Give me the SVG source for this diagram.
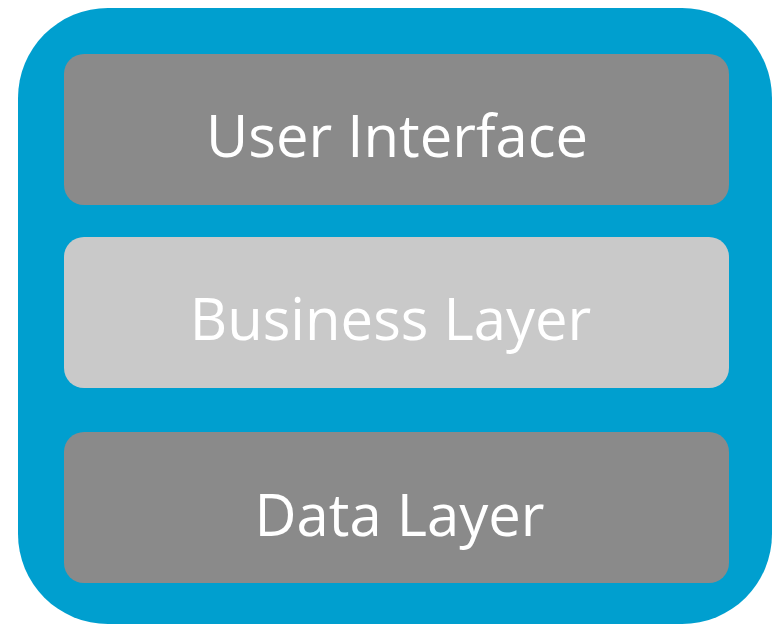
<svg xmlns="http://www.w3.org/2000/svg" width="773" height="626" viewBox="0 0 773 626">
<style>
.lbl{font-family:"Open Sans","Noto Sans","Liberation Sans",sans-serif;font-size:58px;fill:#ffffff;text-anchor:middle}
.dark{fill:#8a8a8a}
.light{fill:#c9c9c9}
</style>
<rect width="773" height="626" fill="#ffffff"/>
<g id="container">
<rect x="18" y="8" width="754" height="616" rx="90" ry="90" fill="#009fcf"/>
</g>
<g id="user-interface">
<rect class="dark" x="64" y="54" width="665" height="151" rx="20" ry="20"/>
<text class="lbl" x="397" y="157">User Interface</text>
</g>
<g id="business-layer">
<rect class="light" x="64" y="237" width="665" height="151" rx="20" ry="20"/>
<text class="lbl" x="390.5" y="340">Business Layer</text>
</g>
<g id="data-layer">
<rect class="dark" x="64" y="432" width="665" height="151" rx="20" ry="20"/>
<text class="lbl" x="399.5" y="536">Data Layer</text>
</g>
<g id="connectors"/>
</svg>
